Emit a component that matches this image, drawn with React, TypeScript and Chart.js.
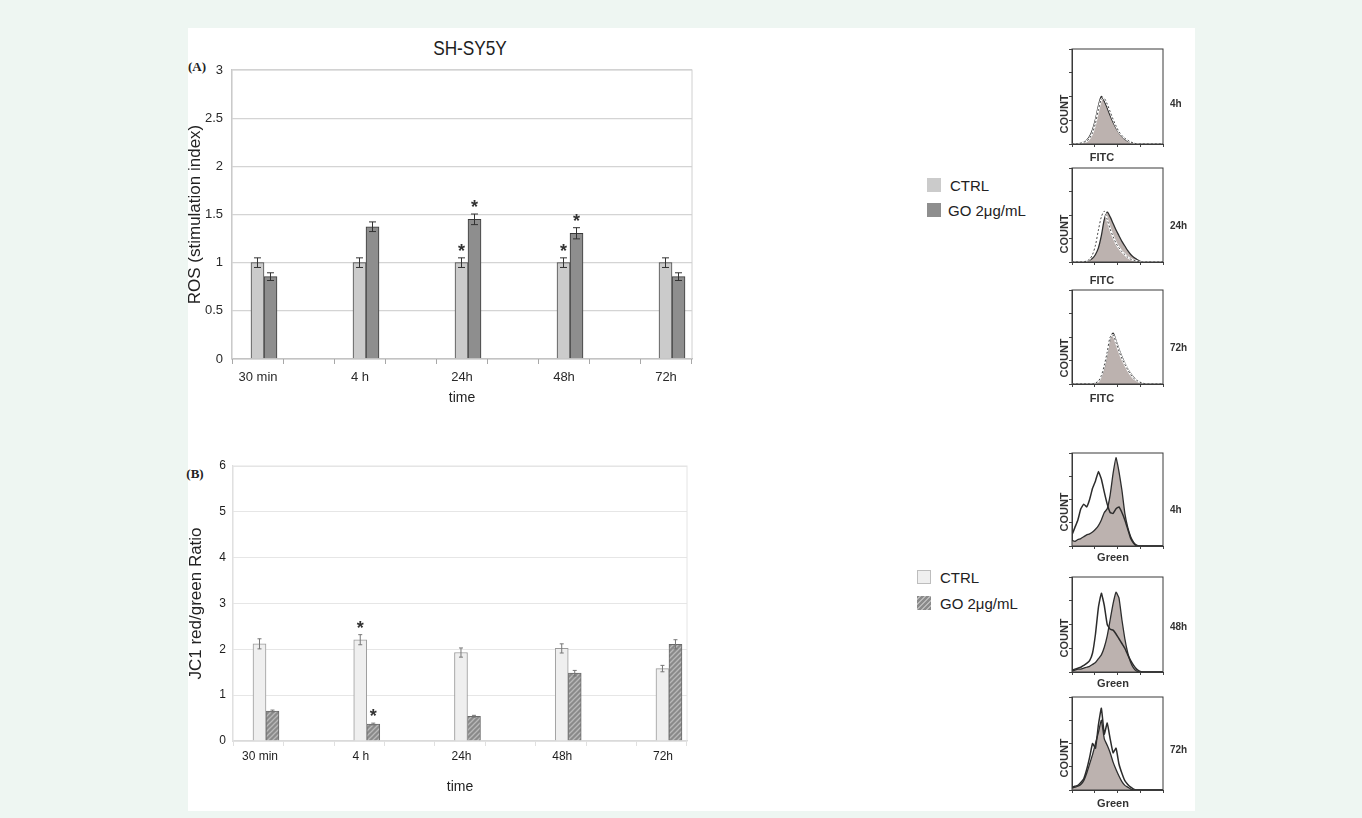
import React, { useEffect, useRef } from 'react';
import { Chart, registerables } from 'chart.js';

Chart.register(...registerables);

// ---------------- DATA ----------------
const categories = ['30 min', '4 h', '24h', '48h', '72h'];

// (A) ROS (stimulation index)
const rosCtrl = [1.0, 1.0, 1.0, 1.0, 1.0];
const rosGo = [0.855, 1.373, 1.45, 1.305, 0.855];
const rosCtrlErr = [0.05, 0.05, 0.05, 0.05, 0.05];
const rosGoErr = [0.04, 0.05, 0.055, 0.058, 0.04];
const rosCtrlStar = [false, false, true, true, false];
const rosGoStar = [false, false, true, true, false];

// (B) JC1 red/green ratio
const jc1Ctrl = [2.12, 2.21, 1.93, 2.02, 1.58];
const jc1Go = [0.655, 0.37, 0.54, 1.48, 2.11];
const jc1CtrlErr = [0.11, 0.11, 0.1, 0.1, 0.07];
const jc1GoErr = [0.02, 0.02, 0.02, 0.06, 0.1];
const jc1CtrlStar = [false, true, false, false, false];
const jc1GoStar = [false, true, false, false, false];

// flow cytometry histograms (bins along the log intensity axis, % of panel height)
const histBins = [0, 1, 2, 3, 4, 5, 6, 7, 8, 9, 10, 11, 12, 13, 14, 15, 16, 17, 18, 19, 20, 21, 22, 23, 24, 25, 26, 27, 28, 29, 30, 31];
const fitc4hGo = [0, 0, 0, 1, 2, 4, 8, 15, 26, 40, 50, 45, 38, 30, 23, 17, 12, 8, 5, 3, 2, 1, 0, 0, 0, 0, 0, 0, 0, 0, 0, 0];
const fitc4hCtrl = [0, 0, 0, 1, 2, 3, 6, 12, 22, 36, 47, 48, 42, 34, 26, 19, 13, 9, 6, 4, 2, 1, 0, 0, 0, 0, 0, 0, 0, 0, 0, 0];
const fitc24hGo = [0, 0, 0, 0, 0, 1, 2, 4, 8, 15, 28, 45, 53, 48, 41, 34, 28, 22, 17, 12, 8, 5, 3, 1, 0, 0, 0, 0, 0, 0, 0, 0];
const fitc24hCtrl = [0, 0, 0, 0, 0, 1, 3, 8, 18, 34, 48, 54, 45, 35, 27, 20, 15, 11, 8, 5, 3, 2, 1, 0, 0, 0, 0, 0, 0, 0, 0, 0];
const fitc72hGo = [0, 0, 0, 0, 0, 0, 0, 0, 1, 3, 8, 18, 32, 48, 54, 46, 37, 29, 22, 16, 11, 7, 4, 2, 1, 0, 0, 0, 0, 0, 0, 0];
const fitc72hCtrl = [0, 0, 0, 0, 0, 0, 0, 0, 1, 3, 9, 20, 34, 50, 52, 44, 35, 27, 21, 15, 10, 6, 4, 2, 1, 0, 0, 0, 0, 0, 0, 0];
const green4hOpen = [12, 20, 28, 40, 45, 42, 50, 62, 70, 80, 72, 58, 45, 36, 35, 40, 42, 36, 28, 18, 8, 3, 0, 0, 0, 0, 0, 0, 0, 0, 0, 0];
const green4hGo = [6, 5, 7, 8, 10, 12, 13, 15, 18, 22, 28, 36, 40, 55, 78, 95, 80, 60, 35, 20, 10, 4, 1, 0, 0, 0, 0, 0, 0, 0, 0, 0];
const green48hOpen = [2, 3, 4, 5, 7, 9, 12, 20, 40, 68, 83, 70, 50, 45, 44, 40, 35, 30, 25, 18, 12, 7, 3, 1, 0, 0, 0, 0, 0, 0, 0, 0];
const green48hGo = [1, 2, 3, 3, 4, 5, 6, 8, 10, 14, 18, 26, 38, 55, 72, 84, 78, 55, 35, 20, 10, 4, 1, 0, 0, 0, 0, 0, 0, 0, 0, 0];
const green72hOpen = [3, 4, 5, 8, 12, 22, 35, 50, 45, 70, 88, 60, 72, 55, 40, 45, 28, 18, 10, 6, 3, 1, 0, 0, 0, 0, 0, 0, 0, 0, 0, 0];
const green72hGo = [2, 3, 4, 6, 10, 18, 28, 38, 50, 62, 75, 55, 48, 40, 30, 22, 15, 9, 5, 3, 1, 0, 0, 0, 0, 0, 0, 0, 0, 0, 0, 0];

// ---------------- STYLE ----------------
const SANS = "'Liberation Sans', Arial, sans-serif";
const SERIF = "'Liberation Serif', 'Times New Roman', serif";

function makeHatch(): CanvasPattern | string {
  const c = document.createElement('canvas');
  c.width = 5;
  c.height = 5;
  const g = c.getContext('2d');
  if (!g) return '#999';
  g.fillStyle = '#8a8a8a';
  g.fillRect(0, 0, 5, 5);
  g.strokeStyle = '#b9b9b9';
  g.lineWidth = 1.3;
  g.beginPath();
  g.moveTo(-1, 6); g.lineTo(6, -1);
  g.moveTo(-1, 1); g.lineTo(1, -1);
  g.moveTo(4, 6); g.lineTo(6, 4);
  g.stroke();
  const ctx = document.createElement('canvas').getContext('2d');
  const p = ctx ? ctx.createPattern(c, 'repeat') : null;
  return p || '#999';
}

const errorBarPlugin = {
  id: 'errorBars',
  afterDatasetsDraw(chart: any, _args: any, opts: any) {
    const { ctx } = chart;
    const yScale = chart.scales.y;
    ctx.save();
    chart.data.datasets.forEach((ds: any, di: number) => {
      const meta = chart.getDatasetMeta(di);
      if (!ds.errors) return;
      meta.data.forEach((bar: any, i: number) => {
        const v = ds.data[i].y;
        const e = ds.errors[i];
        const top = yScale.getPixelForValue(v + e);
        const bot = yScale.getPixelForValue(v - e);
        ctx.strokeStyle = opts.color;
        ctx.lineWidth = opts.width;
        ctx.beginPath();
        ctx.moveTo(bar.x, top);
        ctx.lineTo(bar.x, bot);
        if (opts.cap > 0) {
          ctx.moveTo(bar.x - opts.cap / 2, top);
          ctx.lineTo(bar.x + opts.cap / 2, top);
          ctx.moveTo(bar.x - opts.cap / 2, bot);
          ctx.lineTo(bar.x + opts.cap / 2, bot);
        }
        ctx.stroke();
        if (ds.stars && ds.stars[i]) {
          ctx.fillStyle = opts.starColor;
          ctx.font = `bold 18px ${SANS}`;
          ctx.textAlign = 'center';
          ctx.textBaseline = 'alphabetic';
          ctx.fillText('*', bar.x, top - 1);
        }
      });
    });
    ctx.restore();
  },
};

// plot frame plus the small half-interval tick marks under the x axis
const framePlugin = {
  id: 'frame',
  afterDatasetsDraw(chart: any, _args: any, opts: any) {
    if (!opts || !opts.color) return;
    const { ctx, chartArea } = chart;
    ctx.save();
    ctx.strokeStyle = opts.color;
    ctx.lineWidth = opts.width || 1;
    ctx.strokeRect(chartArea.left, chartArea.top, chartArea.right - chartArea.left, chartArea.bottom - chartArea.top);
    if (opts.minorTick) {
      const xs = chart.scales.x;
      ctx.strokeStyle = opts.minorTick;
      ctx.lineWidth = 1;
      ctx.beginPath();
      for (let v = xs.min; v <= xs.max + 1e-6; v += 0.5) {
        const px = Math.round(xs.getPixelForValue(v)) + 0.5;
        ctx.moveTo(px, chartArea.bottom);
        ctx.lineTo(px, chartArea.bottom + 5);
      }
      ctx.stroke();
    }
    ctx.restore();
  },
};

type Series = {
  label: string;
  values: number[];
  errors: number[];
  stars: boolean[];
  fill: string;
  border: string;
};

type BarCfg = {
  left: number; top: number; width: number; height: number;
  padding: { top: number; right: number; left: number; bottom: number };
  yAxisWidth: number; xAxisHeight: number;
  xMin: number; xMax: number; yMax: number; yStep: number;
  yTitle: string; yTitlePad: number;
  tickSize: number; xTickPad: number; yTickPad: number; tickColor: string;
  gridColor: string; gridWidth: number; yBorder: string; xBorder: string; frame: string; minorTick: string;
  err: { color: string; width: number; cap: number; starColor: string };
  series: Series[];
};

function BarPanel({ cfg }: { cfg: BarCfg }) {
  const ref = useRef<HTMLCanvasElement>(null);
  useEffect(() => {
    const canvas = ref.current;
    if (!canvas) return;
    const datasets = cfg.series.map((s) => ({
      label: s.label,
      data: categories.map((_, i) => ({ x: i, y: s.values[i] })),
      errors: s.errors,
      stars: s.stars,
      backgroundColor: s.fill === 'hatch' ? makeHatch() : s.fill,
      borderColor: s.border,
      borderWidth: 1,
      barThickness: 13,
    }));
    const chart = new Chart(canvas, {
      type: 'bar',
      data: { datasets } as any,
      options: {
        responsive: false,
        animation: false,
        layout: { padding: cfg.padding },
        plugins: {
          legend: { display: false },
          tooltip: { enabled: false },
          errorBars: cfg.err,
          frame: { color: cfg.frame, width: 1, minorTick: cfg.minorTick },
        } as any,
        scales: {
          x: {
            type: 'linear',
            min: cfg.xMin,
            max: cfg.xMax,
            offset: false,
            afterBuildTicks: (s: any) => {
              s.ticks = categories.map((_, i) => ({ value: i }));
            },
            afterFit: (s: any) => {
              s.height = cfg.xAxisHeight;
            },
            ticks: {
              callback: (_v: any, i: number) => categories[i],
              labelOffset: -6,
              padding: cfg.xTickPad,
              maxRotation: 0,
              autoSkip: false,
              font: { family: SANS, size: cfg.tickSize },
              color: cfg.tickColor,
            },
            grid: { display: false, drawTicks: false, offset: false },
            border: { display: true, color: cfg.xBorder, width: 1.2 },
            title: {
              display: true,
              text: 'time',
              font: { family: SANS, size: 14 },
              color: '#222',
              padding: { top: 0, bottom: 6 },
            },
          },
          y: {
            min: 0,
            max: cfg.yMax,
            afterFit: (s: any) => {
              s.width = cfg.yAxisWidth;
            },
            ticks: {
              stepSize: cfg.yStep,
              padding: cfg.yTickPad,
              callback: (v: any) => String(Math.round(Number(v) * 100) / 100),
              font: { family: SANS, size: cfg.tickSize },
              color: cfg.tickColor,
            },
            grid: { color: cfg.gridColor, lineWidth: cfg.gridWidth, drawTicks: false },
            border: { display: true, color: cfg.yBorder, width: 1.2 },
            title: {
              display: true,
              text: cfg.yTitle,
              font: { family: SANS, size: 17 },
              color: '#222',
              padding: { top: cfg.yTitlePad, bottom: 0 },
            },
          },
        } as any,
      },
      plugins: [errorBarPlugin, framePlugin],
    });
    return () => chart.destroy();
  }, []);
  return (
    <canvas
      ref={ref}
      width={cfg.width}
      height={cfg.height}
      style={{ position: 'absolute', left: cfg.left, top: cfg.top, width: cfg.width, height: cfg.height, display: 'block' }}
    />
  );
}

type HistCfg = {
  box: { x: number; y: number; w: number; h: number };
  fill: number[];
  line: number[];
  mode: 'fitc' | 'green';
};

function Histogram({ cfg }: { cfg: HistCfg }) {
  const ref = useRef<HTMLCanvasElement>(null);
  const W = cfg.box.w + 4;
  const H = cfg.box.h + 4;
  useEffect(() => {
    const canvas = ref.current;
    if (!canvas) return;
    const pts = (arr: number[]) => histBins.map((b, i) => ({ x: b, y: arr[i] }));
    const tension = cfg.mode === 'fitc' ? 0.3 : 0.12;
    const datasets: any[] = [];
    if (cfg.mode === 'fitc') {
      datasets.push({ data: pts(cfg.line), borderColor: '#4a4a4a', borderWidth: 1, borderDash: [2, 2], fill: false, pointRadius: 0, tension });
      datasets.push({ data: pts(cfg.line), borderColor: '#ffffff', borderWidth: 2, fill: false, pointRadius: 0, tension });
    } else {
      datasets.push({ data: pts(cfg.line), borderColor: '#2c2c2c', borderWidth: 1.5, fill: false, pointRadius: 0, tension });
    }
    datasets.push({
      data: pts(cfg.fill),
      fill: 'origin',
      backgroundColor: '#bcb2af',
      borderColor: '#2e2e2e',
      borderWidth: 1.3,
      pointRadius: 0,
      tension,
    });
    const chart = new Chart(canvas, {
      type: 'line',
      data: { datasets },
      options: {
        responsive: false,
        animation: false,
        layout: { padding: { top: 1, right: 1, left: 0, bottom: 0 } },
        plugins: {
          legend: { display: false },
          tooltip: { enabled: false },
          frame: { color: '#3a3a3a', width: 1 },
        } as any,
        scales: {
          x: {
            type: 'linear',
            min: 0,
            max: 31,
            ticks: { display: false, stepSize: 7.75, autoSkip: false },
            grid: { drawOnChartArea: false, tickLength: 3, color: '#444' },
            border: { color: '#3a3a3a' },
            afterFit: (s: any) => { s.height = 3; },
          },
          y: {
            min: 0,
            max: 100,
            ticks: { display: false, stepSize: 25, autoSkip: false },
            grid: { drawOnChartArea: false, tickLength: 3, color: '#444' },
            border: { color: '#3a3a3a' },
            afterFit: (s: any) => { s.width = 3; },
          },
        } as any,
      },
      plugins: [framePlugin],
    });
    return () => chart.destroy();
  }, []);
  return (
    <canvas
      ref={ref}
      width={W}
      height={H}
      style={{ position: 'absolute', left: cfg.box.x - 3, top: cfg.box.y - 1, width: W, height: H, display: 'block' }}
    />
  );
}

function T({ x, y, children, style, anchor = 'center', rotate = false, sx = 1 }: any) {
  const tr = (anchor === 'center' ? 'translate(-50%,-50%)' : 'translate(0,-50%)') + (rotate ? ' rotate(-90deg)' : '') + (sx !== 1 ? ` scaleX(${sx})` : '');
  return (
    <div style={{ position: 'absolute', left: x, top: y, transform: tr, transformOrigin: anchor === 'center' ? '50% 50%' : '0 50%', whiteSpace: 'nowrap', lineHeight: 1, ...style }}>
      {children}
    </div>
  );
}

const chartA: BarCfg = {
  left: 188, top: 28, width: 540, height: 385,
  padding: { top: 42, right: 36, left: 0, bottom: 0 },
  yAxisWidth: 44, xAxisHeight: 54,
  xMin: -0.3137, xMax: 4.196, yMax: 3, yStep: 0.5,
  yTitle: 'ROS (stimulation index)', yTitlePad: -3,
  tickSize: 13, xTickPad: 11, yTickPad: 9, tickColor: '#2a2a2a',
  gridColor: '#d4d4d4', gridWidth: 1.3, yBorder: '#c4c4c4', xBorder: '#b5b5b5', frame: '#d0d0d0', minorTick: '#a8a8a8',
  err: { color: '#333', width: 1, cap: 7, starColor: '#333' },
  series: [
    { label: 'CTRL', values: rosCtrl, errors: rosCtrlErr, stars: rosCtrlStar, fill: '#cbcbcb', border: '#4a4a4a' },
    { label: 'GO 2μg/mL', values: rosGo, errors: rosGoErr, stars: rosGoStar, fill: '#8e8e8e', border: '#3a3a3a' },
  ],
};

const chartB: BarCfg = {
  left: 188, top: 430, width: 540, height: 372,
  padding: { top: 36, right: 41, left: 0, bottom: 0 },
  yAxisWidth: 45, xAxisHeight: 61,
  xMin: -0.3275, xMax: 4.179, yMax: 6, yStep: 1,
  yTitle: 'JC1 red/green Ratio', yTitlePad: -2,
  tickSize: 12, xTickPad: 8, yTickPad: 7, tickColor: '#1e1e1e',
  gridColor: '#e6e6e6', gridWidth: 1, yBorder: '#dcdcdc', xBorder: '#cfcfcf', frame: '#e4e4e4', minorTick: '#e0e0e0',
  err: { color: '#777', width: 1, cap: 4, starColor: '#333' },
  series: [
    { label: 'CTRL', values: jc1Ctrl, errors: jc1CtrlErr, stars: jc1CtrlStar, fill: '#efefef', border: '#9a9a9a' },
    { label: 'GO 2μg/mL', values: jc1Go, errors: jc1GoErr, stars: jc1GoStar, fill: 'hatch', border: '#6a6a6a' },
  ],
};

const histPanels: (HistCfg & { time: string; xLabel: string; labelY: number; countY: number; timeY: number })[] = [
  { box: { x: 1072, y: 49, w: 91, h: 95 }, fill: fitc4hGo, line: fitc4hCtrl, mode: 'fitc', time: '4h', xLabel: 'FITC', labelY: 157, countY: 114, timeY: 104 },
  { box: { x: 1072, y: 168, w: 91, h: 94 }, fill: fitc24hGo, line: fitc24hCtrl, mode: 'fitc', time: '24h', xLabel: 'FITC', labelY: 280, countY: 234, timeY: 226 },
  { box: { x: 1072, y: 290, w: 91, h: 94 }, fill: fitc72hGo, line: fitc72hCtrl, mode: 'fitc', time: '72h', xLabel: 'FITC', labelY: 398, countY: 358, timeY: 348 },
  { box: { x: 1072, y: 453, w: 91, h: 93 }, fill: green4hGo, line: green4hOpen, mode: 'green', time: '4h', xLabel: 'Green', labelY: 557, countY: 512, timeY: 510 },
  { box: { x: 1072, y: 577, w: 91, h: 95 }, fill: green48hGo, line: green48hOpen, mode: 'green', time: '48h', xLabel: 'Green', labelY: 683, countY: 638, timeY: 627 },
  { box: { x: 1072, y: 697, w: 91, h: 93 }, fill: green72hGo, line: green72hOpen, mode: 'green', time: '72h', xLabel: 'Green', labelY: 803, countY: 758, timeY: 750 },
];

export default function App() {
  const txt = { fontFamily: SANS, color: '#222' };
  return (
    <div style={{ position: 'absolute', left: 0, top: 0, width: 1362, height: 818, background: '#eef6f2', overflow: 'hidden' }}>
      <div style={{ position: 'absolute', left: 188, top: 28, width: 1007, height: 783, background: '#ffffff' }} />

      <T x={470} y={47} sx={0.82} style={{ fontFamily: SANS, fontSize: 21, color: '#1e1e1e' }}>SH-SY5Y</T>
      <T x={197} y={66} style={{ fontFamily: SERIF, fontSize: 13, fontWeight: 'bold', color: '#222' }}>(A)</T>
      <T x={195} y={473} style={{ fontFamily: SERIF, fontSize: 13, fontWeight: 'bold', color: '#222' }}>(B)</T>

      <BarPanel cfg={chartA} />
      <BarPanel cfg={chartB} />

      {/* legend A */}
      <div style={{ position: 'absolute', left: 927, top: 178, width: 14, height: 14, background: '#cbcbcb' }} />
      <T x={950} y={185} anchor="left" style={{ ...txt, fontSize: 15 }}>CTRL</T>
      <div style={{ position: 'absolute', left: 927, top: 203, width: 14, height: 14, background: '#8e8e8e' }} />
      <T x={948} y={210} anchor="left" style={{ ...txt, fontSize: 15 }}>GO 2μg/mL</T>

      {/* legend B */}
      <div style={{ position: 'absolute', left: 917, top: 570, width: 14, height: 14, background: '#efefef', boxSizing: 'border-box', border: '1px solid #bdbdbd' }} />
      <T x={940} y={577} anchor="left" style={{ ...txt, fontSize: 15 }}>CTRL</T>
      <div style={{ position: 'absolute', left: 917, top: 596, width: 14, height: 14, background: 'repeating-linear-gradient(135deg, #8a8a8a 0px, #8a8a8a 2px, #b9b9b9 2px, #b9b9b9 3.5px)' }} />
      <T x={940} y={603} anchor="left" style={{ ...txt, fontSize: 15 }}>GO 2μg/mL</T>

      {histPanels.map((p, i) => (
        <React.Fragment key={i}>
          <Histogram cfg={p} />
          <T x={1064} y={p.countY} rotate style={{ fontFamily: SANS, fontSize: 11, fontWeight: 'bold', color: '#333' }}>COUNT</T>
          <T x={p.mode === 'fitc' ? 1102 : 1113} y={p.labelY} style={{ fontFamily: SANS, fontSize: 11, fontWeight: 'bold', color: '#333' }}>{p.xLabel}</T>
          <T x={1170} y={p.timeY} anchor="left" style={{ fontFamily: SANS, fontSize: 10, fontWeight: 'bold', color: '#333' }}>{p.time}</T>
        </React.Fragment>
      ))}
    </div>
  );
}
